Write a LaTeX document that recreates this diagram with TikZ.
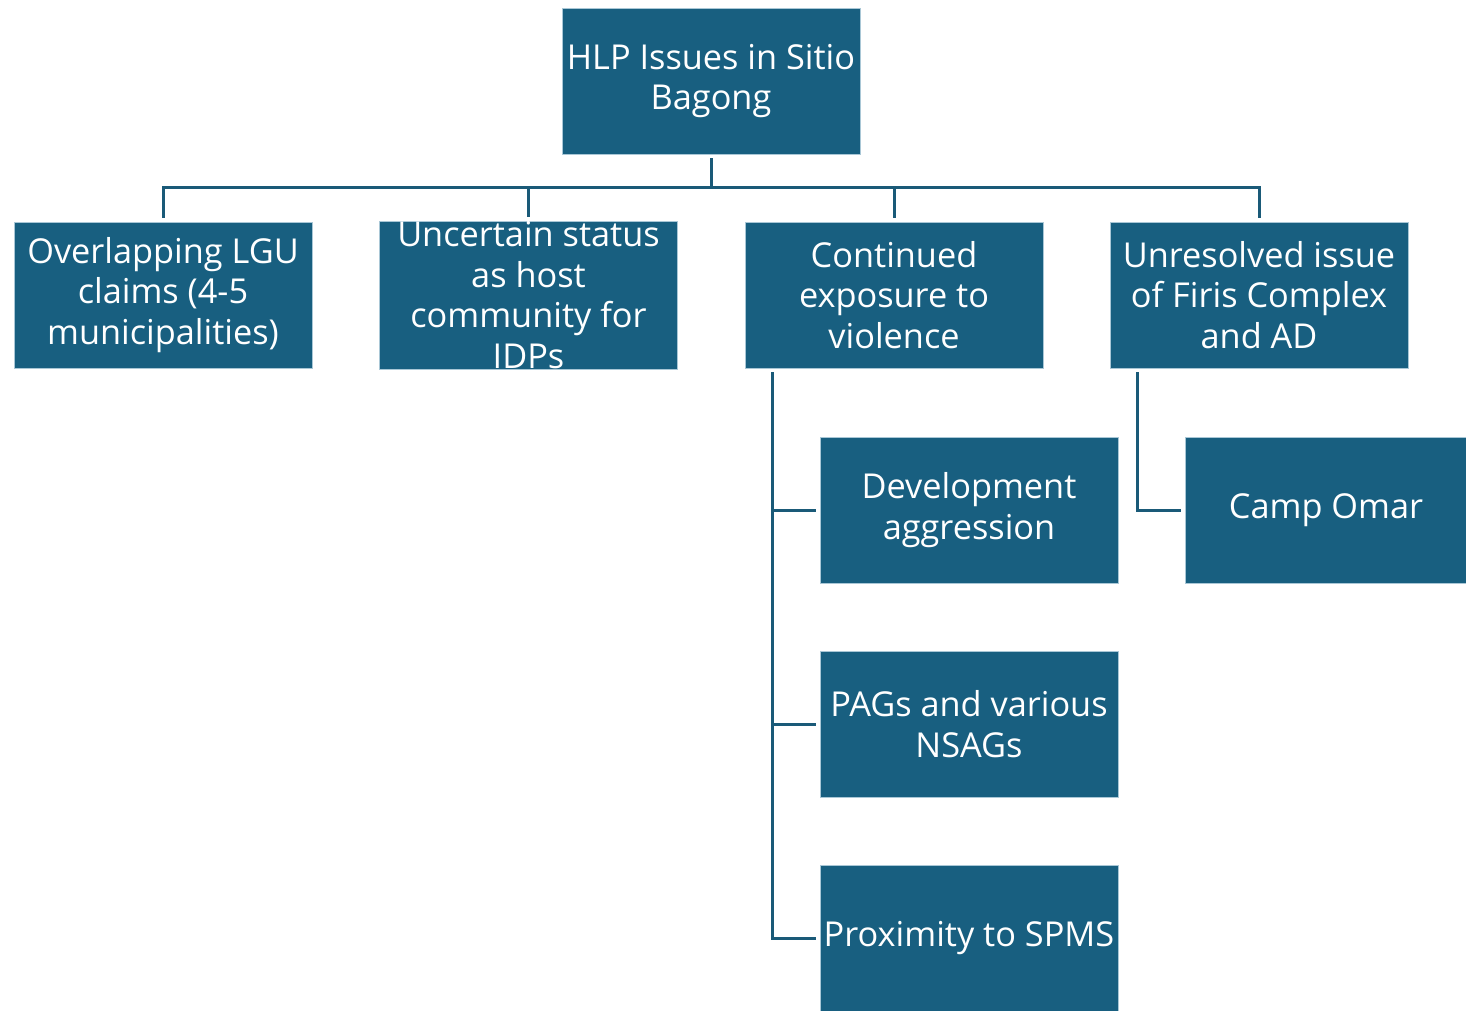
\documentclass[tikz,border=0pt]{standalone}
\usepackage{fontspec}
\setmainfont{Open Sans}
\definecolor{boxfill}{HTML}{185F80}
\definecolor{boxedge}{HTML}{A9C7D6}
\definecolor{conncol}{HTML}{1A5A78}
\begin{document}
\begin{tikzpicture}[x=1pt,y=-1pt,
  hbox/.style={rectangle,fill=boxfill,draw=boxedge,line width=0.8pt,
    minimum width=298pt,minimum height=146pt,inner sep=0pt,
    text=white,align=center,font=\fontsize{34.3}{40.8}\selectfont},
  conn/.style={draw=conncol,line width=3pt,line join=miter}]
\useasboundingbox[fill=white] (0,0) rectangle (1466,1010);
\node[hbox] (root) at (711,81) {HLP Issues in Sitio\\Bagong};
\node[hbox] (n1) at (163,295) {Overlapping LGU\\claims (4-5\\municipalities)};
\node[hbox] (n2) at (528.5,295) {Uncertain status\\as host\\community for\\IDPs};
\node[hbox] (n3) at (894,295) {Continued\\exposure to\\violence};
\node[hbox] (n4) at (1259,295) {Unresolved issue\\of Firis Complex\\and AD};
\node[hbox] (c1) at (969,510) {Development\\aggression};
\node[hbox] (c2) at (969,724) {PAGs and various\\NSAGs};
\node[hbox] (c3) at (969,938) {Proximity to SPMS};
\node[hbox,minimum width=281pt] (d1) at (1326,510) {Camp Omar};
\coordinate (bus) at (711,187);
\draw[conn] ([yshift=-4pt]root.south) -- (bus);
\draw[conn] ([yshift=4pt]n1.north) -- (n1.north |- bus) -- (n4.north |- bus) -- ([yshift=4pt]n4.north);
\draw[conn] ([yshift=4pt]n2.north) -- (n2.north |- bus);
\draw[conn] ([yshift=4pt]n3.north) -- (n3.north |- bus);
\coordinate (v3) at ([xshift=28pt,yshift=-4pt]n3.south west);
\draw[conn] (v3) |- ([xshift=-4pt]c3.west);
\draw[conn] (v3 |- c1.west) -- ([xshift=-4pt]c1.west);
\draw[conn] (v3 |- c2.west) -- ([xshift=-4pt]c2.west);
\coordinate (v4) at ([xshift=28pt,yshift=-4pt]n4.south west);
\draw[conn] (v4) |- ([xshift=-4pt]d1.west);
\end{tikzpicture}
\end{document}
